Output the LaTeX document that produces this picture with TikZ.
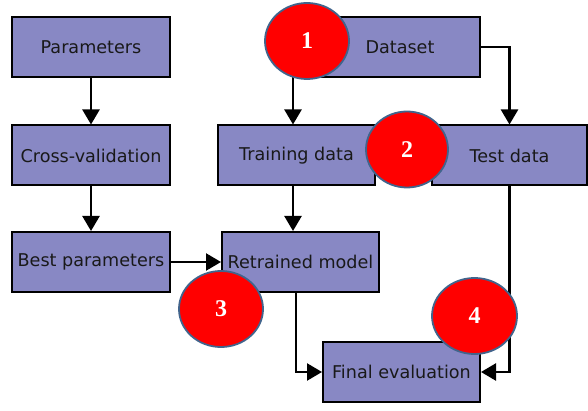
\documentclass[tikz,border=0pt]{standalone}
\usepackage{fontspec}
\setmainfont{DejaVu Sans}
\newfontfamily\numfont{Liberation Serif}
\usetikzlibrary{arrows.meta,shapes.geometric}
\definecolor{boxfill}{RGB}{136,136,196}
\definecolor{ringcol}{RGB}{65,100,140}
\begin{document}
\begin{tikzpicture}[x=1pt,y=-1pt,
  stepbox/.style={draw=black,line width=2pt,fill=boxfill,minimum height=60pt,inner sep=0pt,
    font=\fontsize{17.6}{21}\selectfont,text=black!90},
  flow/.style={line width=2.4pt,-{Triangle[length=15pt,width=17pt]}},
  badge/.style={ellipse,draw=ringcol,line width=1.8pt,fill=red,minimum width=84pt,minimum height=76pt,
    inner sep=0pt,font=\numfont\bfseries\fontsize{24}{26}\selectfont,text=white}]
\useasboundingbox (0,0) rectangle (588,411);
\node[stepbox,minimum width=158pt] (par) at (91,47.5) {Parameters};
\node[stepbox,minimum width=158pt] (cv) at (91,155.5) {Cross-validation};
\node[stepbox,minimum width=158pt] (best) at (91,262) {Best parameters};
\node[stepbox,minimum width=160pt] (data) at (400,47) {Dataset};
\node[stepbox,minimum width=157pt] (train) at (296.5,155.5) {Training data};
\node[stepbox,minimum width=155pt] (test) at (509.5,155.5) {Test data};
\node[stepbox,minimum width=157pt] (retr) at (300.5,262) {Retrained model};
\node[stepbox,minimum width=157pt] (final) at (401.5,372) {Final evaluation};
\coordinate (dsrc) at (293,60);
\draw[flow] (par.south) -- (cv.north);
\draw[flow] (cv.south) -- (best.north);
\draw[flow] (dsrc) -- (dsrc |- train.north);
\draw[flow] (data.east) -| (test.north);
\draw[flow] (train.south -| dsrc) -- (retr.north -| dsrc);
\draw[flow] (best.east) -- (retr.west);
\draw[flow] (retr.south -| 296,0) |- (final.west);
\draw[flow] (test.south) |- (final.east);
\node[badge] (b1) at (307,41) {1};
\node[badge,minimum width=82pt] (b2) at (407,149.5) {2};
\node[badge] (b3) at (221,309) {3};
\node[badge,minimum width=85pt] (b4) at (474.5,316) {4};
\end{tikzpicture}
\end{document}
